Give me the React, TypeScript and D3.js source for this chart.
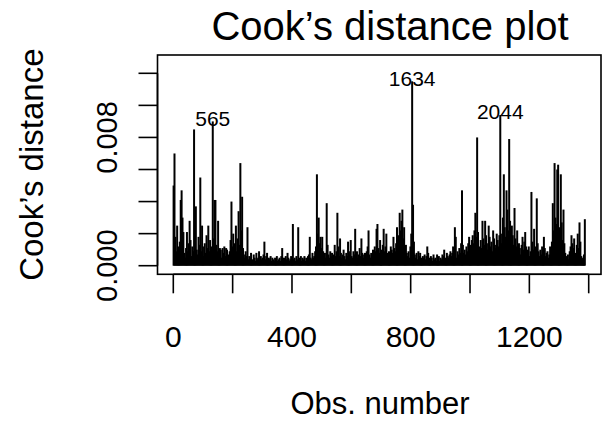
import React from "react";
import * as d3 from "d3";

// Cook's distance values (units of 1e-4), one per every 3rd observation starting at obs 1
const cookE4: number[] = [
  50, 70, 18, 9, 25, 12, 7, 15, 41, 47, 30, 21, 8, 5, 11, 21, 9, 14, 28, 16,
  6, 12, 9, 85, 19, 37, 10, 7, 18, 13, 55, 9, 25, 12, 6, 14, 8, 19, 11, 25,
  9, 16, 6, 12, 90, 17, 41, 41, 13, 9, 28, 7, 11, 10, 5, 11, 8, 12, 6, 11,
  10, 4, 7, 9, 16, 40, 12, 20, 8, 14, 25, 9, 17, 34, 13, 64, 22, 43, 11, 7,
  5, 9, 6, 24, 4, 6, 5, 8, 3, 4, 7, 5, 3, 8, 4, 5, 9, 3, 6, 4,
  5, 7, 15, 4, 6, 8, 3, 5, 4, 6, 3, 5, 4, 3, 5, 4, 6, 3, 4, 5,
  3, 6, 11, 4, 5, 3, 6, 4, 8, 5, 3, 4, 6, 5, 26, 4, 5, 3, 6, 4,
  24, 5, 4, 6, 3, 5, 4, 6, 3, 5, 4, 6, 7, 18, 5, 4, 8, 5, 6, 9,
  12, 57, 20, 30, 14, 18, 11, 18, 9, 6, 8, 5, 39, 13, 7, 5, 9, 6, 8, 5,
  7, 13, 6, 9, 33, 12, 6, 17, 8, 5, 7, 10, 6, 4, 8, 6, 15, 9, 7, 16,
  6, 5, 9, 7, 23, 8, 9, 5, 7, 11, 6, 17, 8, 5, 7, 8, 6, 9, 12, 22,
  7, 5, 8, 6, 10, 7, 12, 9, 23, 26, 11, 8, 16, 7, 10, 13, 23, 9, 12, 20,
  8, 6, 9, 7, 12, 10, 8, 18, 11, 9, 14, 24, 12, 19, 33, 22, 28, 35, 17, 24,
  10, 13, 8, 6, 9, 5, 12, 20, 115, 38, 15, 7, 5, 8, 4, 9, 6, 8, 5, 4,
  6, 5, 7, 4, 6, 12, 8, 5, 4, 6, 5, 3, 7, 4, 5, 3, 7, 4, 6, 3,
  5, 4, 7, 6, 10, 5, 4, 8, 6, 5, 7, 9, 6, 8, 12, 10, 24, 18, 5, 9,
  7, 11, 8, 14, 47, 13, 8, 10, 7, 12, 9, 14, 18, 11, 13, 16, 19, 14, 22, 33,
  18, 80, 21, 9, 12, 16, 11, 28, 17, 13, 28, 19, 14, 10, 25, 18, 12, 15, 9, 22,
  17, 13, 11, 20, 16, 12, 19, 94, 14, 20, 30, 57, 24, 18, 47, 35, 22, 79, 28, 16,
  25, 19, 13, 36, 17, 12, 22, 9, 14, 11, 7, 13, 18, 10, 15, 21, 12, 8, 10, 12,
  6, 9, 46, 15, 10, 23, 12, 8, 42, 14, 9, 6, 10, 7, 12, 9, 18, 11, 6, 8,
  9, 5, 7, 12, 10, 15, 39, 22, 64, 30, 26, 60, 63, 24, 18, 57, 27, 16, 35, 14,
  8, 6, 5, 7, 4, 9, 12, 19, 14, 11, 17, 8, 6, 13, 20, 11, 27, 15, 6, 4,
  5, 7, 29,
];
const obsStep = 3;

const labelIndex: number[] = [44, 268, 367];
const labelText: string[] = ["565", "1634", "2044"];

const xTicks: number[] = [0, 200, 400, 600, 800, 1000, 1200, 1400];
const xTickLabels: number[] = [0, 400, 800, 1200];
const yTicks: number[] = [0, 0.002, 0.004, 0.006, 0.008, 0.01, 0.012];
const yTickLabels: number[] = [0, 0.008];

const FONT = "'Liberation Sans', Arial, Helvetica, sans-serif";

export default function App() {
  const W = 602;
  const H = 422;
  const box = { left: 157.5, top: 55, right: 601, bottom: 274.3 };
  const x = d3.scaleLinear().domain([0, 1400]).range([173.3, 588.7]);
  const y = d3.scaleLinear().domain([0, 0.012]).range([265.7, 73.3]);
  const pts = cookE4.map((v, i) => ({ obs: 1 + obsStep * i, v: v * 1e-4 }));
  const tick = 19;
  const fmt = d3.format(".3f");

  return (
    <svg
      width={W}
      height={H}
      style={{ position: "absolute", left: 0, top: 0, background: "#fff" }}
      fontFamily={FONT}
    >
      <rect x={0} y={0} width={W} height={H} fill="#fff" />
      {/* spikes */}
      <g stroke="#000" strokeWidth={2}>
        {pts.map((p, i) => (
          <line key={i} x1={x(p.obs)} x2={x(p.obs)} y1={y(0)} y2={y(p.v)} />
        ))}
      </g>
      {/* id labels */}
      {labelIndex.map((idx, k) => (
        <text
          key={k}
          x={x(pts[idx].obs)}
          y={y(pts[idx].v) - 3}
          textAnchor="middle"
          dominantBaseline="central"
          fontSize={21}
        >
          {labelText[k]}
        </text>
      ))}
      {/* box */}
      <rect
        x={box.left}
        y={box.top}
        width={box.right - box.left}
        height={box.bottom - box.top}
        fill="none"
        stroke="#000"
        strokeWidth={1.6}
      />
      {/* x axis */}
      <g stroke="#000" strokeWidth={1.6}>
        <line x1={x(0)} x2={x(1400)} y1={box.bottom} y2={box.bottom} />
        {xTicks.map((t) => (
          <line key={t} x1={x(t)} x2={x(t)} y1={box.bottom} y2={box.bottom + tick} />
        ))}
      </g>
      {xTickLabels.map((t) => (
        <text key={t} x={x(t)} y={347} textAnchor="middle" fontSize={30}>
          {t}
        </text>
      ))}
      {/* y axis */}
      <g stroke="#000" strokeWidth={1.6}>
        <line x1={box.left} x2={box.left} y1={y(0)} y2={y(0.012)} />
        {yTicks.map((t) => (
          <line key={t} x1={box.left - tick} x2={box.left} y1={y(t)} y2={y(t)} />
        ))}
      </g>
      {yTickLabels.map((t) => (
        <text
          key={t}
          transform={`translate(117,${y(t)}) rotate(-90)`}
          textAnchor="middle"
          fontSize={29}
        >
          {fmt(t)}
        </text>
      ))}
      {/* titles */}
      <text x={390} y={40} textAnchor="middle" fontSize={40}>
        Cook’s distance plot
      </text>
      <text x={380} y={414} textAnchor="middle" fontSize={31}>
        Obs. number
      </text>
      <text
        transform={`translate(43,${(box.top + box.bottom) / 2}) rotate(-90)`}
        textAnchor="middle"
        fontSize={33}
      >
        Cook’s distance
      </text>
    </svg>
  );
}
